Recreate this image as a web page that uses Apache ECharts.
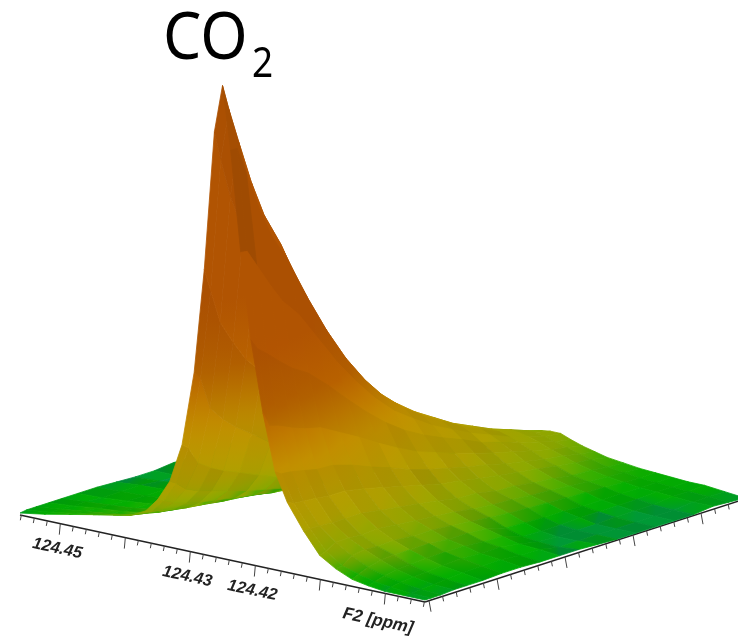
<!DOCTYPE html>
<html><head><meta charset="utf-8">
<style>html,body{margin:0;padding:0;background:#fff}#c{width:738px;height:639px}</style>
<script src="https://cdn.jsdelivr.net/npm/echarts@6/dist/echarts.min.js"></script>
</head><body><div id="c"></div>
<script>
// F2 and F1 grid positions (0..1 along each edge of the base plane)
const f2Grid=[0,.06,.12,.18,.23,.27,.31,.34,.37,.40,.43,.455,.48,.5,.52,.545,.57,.6,.63,.66,.7,.74,.78,.82,.86,.9,.95,1];
const f1Grid=[0,.02,.05,.09,.13,.18,.24,.3,.36,.42,.48,.54,.6,.66,.72,.78,.84,.9,.95,1];
// intensity rows, one per F1 position
const row00=[2,6,11,16,20,23,31,45,66,105,180,285,425,473,410,310,225,154,98,70,45,24,14,7,4,2,2,2];
const row01=[3,6,10,14,18,22,29,42,62,100,172,262,395,447,410,309,214,139,94,67,45,26,15,10,6,4,2,2];
const row02=[3,6,9,12,15,20,27,37,53,82,139,227,355,412,381,292,206,136,93,66,45,32,22,14,9,6,3,2];
const row03=[3,5,8,10,13,17,24,33,47,73,124,203,316,367,342,269,194,130,90,65,44,32,24,17,11,7,4,3];
const row04=[3,5,7,9,12,15,21,29,43,66,112,182,284,330,310,248,183,125,87,63,44,31,23,18,12,8,5,3];
const row05=[3,4,6,8,10,13,19,26,38,59,100,164,256,297,281,230,173,121,86,63,44,32,24,18,13,9,6,3];
const row06=[3,4,5,7,8,11,16,22,32,50,85,138,216,250,238,200,155,110,80,59,41,30,22,18,13,10,7,4];
const row07=[2,4,5,6,7,9,14,19,27,42,70,115,179,208,199,170,135,99,72,54,38,28,22,16,13,9,7,4];
const row08=[1,2,5,5,6,8,11,15,22,34,58,95,148,172,165,144,116,87,65,49,35,26,20,16,11,9,5,3];
const row09=[1,1,2,5,6,7,9,13,18,28,48,78,122,142,137,121,99,76,57,44,32,24,18,14,10,6,5,3];
const row10=[3,4,5,6,5,6,8,11,15,24,40,65,102,118,114,102,85,66,51,39,28,21,16,9,4,2,1,3];
const row11=[2,3,5,6,5,5,7,9,13,20,34,55,86,100,97,88,74,59,46,36,27,19,14,8,3,1,1,2];
const row12=[3,4,5,5,5,5,6,8,11,17,29,47,73,85,83,75,65,52,41,32,23,18,13,7,3,1,1,1];
const row13=[3,4,4,5,5,4,5,7,9,15,25,40,63,73,71,65,57,46,37,29,22,16,12,7,4,1,1,1];
const row14=[3,3,4,5,4,4,5,6,8,12,21,34,53,61,60,55,48,40,32,26,19,15,11,6,4,2,1,1];
const row15=[2,3,4,4,4,4,4,5,7,10,18,29,45,52,51,47,42,35,28,23,17,13,10,6,4,2,1,1];
const row16=[2,3,4,4,4,3,4,4,6,9,15,24,37,43,42,39,35,30,24,20,14,11,9,6,4,2,1,1];
const row17=[2,3,3,4,3,3,3,4,5,7,12,20,31,36,35,33,30,25,21,17,13,10,8,6,5,4,3,3];
const row18=[2,3,3,3,3,3,3,3,4,6,10,17,26,30,30,28,25,22,18,15,11,9,7,6,5,4,3,2];
const row19=[2,2,3,3,3,3,3,3,4,5,8,14,22,25,26,26,22,18,15,12,10,8,7,6,5,5,3,1];
const surface=[row00,row01,row02,row03,row04,row05,row06,row07,row08,row09,row10,row11,row12,row13,row14,row15,row16,row17,row18,row19];
// axis labels
const f2Labels=[124.45,124.43,124.42];
const f2AxisTitle='F2 [ppm]';
const peakName='CO';
const peakSubscript='2';
// colour ramp: intensity, colour
const rampLevel=[0,1.5,4,6,9,13,18,25,35,48,70,100,125,155,210];
const rampColor=[[0,140,90],[0,155,35],[0,168,5],[5,172,0],[30,172,0],[65,171,0],[105,170,0],[138,167,0],[155,163,0],[170,156,0],[180,150,0],[190,140,0],[188,120,0],[180,95,0],[174,82,2]];
// brightness of the long stripes that follow each F1 row
const rowShade=[1,.97,1,.94,1.02,.95,1,.93,1.03,.92,1.02,.94,1,.93,1.02,.95,1.02,.96,1];

const ppmStart=124.4562, ppmSpan=0.0623;
function project(u,v,z){return [20+405*u+320*v,515+87*u-103*v-z];}
function rampAt(z){
  if(z<=rampLevel[0])return rampColor[0];
  for(let k=1;k<rampLevel.length;k++){
    if(z<rampLevel[k]){const t=(z-rampLevel[k-1])/(rampLevel[k]-rampLevel[k-1]);return rampColor[k].map((x,n)=>rampColor[k-1][n]+(x-rampColor[k-1][n])*t);}
  }
  return rampColor[rampColor.length-1];
}
const cells=[];
for(let i=f1Grid.length-2;i>=0;i--){for(let j=0;j<f2Grid.length-1;j++){cells.push([i,j]);}}

function renderCell(params,api){
  const i=api.value(0),j=api.value(1);
  const corners=[[j,i],[j+1,i],[j+1,i+1],[j,i+1]].map(c=>{const z=surface[c[1]][c[0]];return {z:z,p:api.coord(project(f2Grid[c[0]],f1Grid[c[1]],z))};});
  const a=corners[0].z,b=corners[1].z,c=corners[2].z,d=corners[3].z;
  const mean=(a+b+c+d)/4;
  const depth=mean<22?1:(mean<60?0.55:(mean<90?0.3:0));
  let f=1+(rowShade[i]-1)*depth;
  f*=1+(mean>40?0.02:0)*((j%2)?1:-1);
  if(i<=1&&(j===13||j===14))f*=0.93;
  const lift=j<13?0.85:1;
  const tint=z=>{const col=rampAt(z*lift);return 'rgb('+col.map(x=>Math.min(255,Math.round(x*f))).join(',')+')';};
  let lo=corners[0],hi=corners[0];
  corners.forEach(q=>{if(q.z<lo.z)lo=q;if(q.z>hi.z)hi=q;});
  const steps=[0,.15,.3,.5,.75,1].map(t=>({offset:t,color:tint(lo.z+(hi.z-lo.z)*t)}));
  const fill=(hi.p[0]===lo.p[0]&&hi.p[1]===lo.p[1])?tint(mean):new echarts.graphic.LinearGradient(lo.p[0],lo.p[1],hi.p[0],hi.p[1],steps,true);
  return {type:'polygon',shape:{points:corners.map(q=>q.p)},style:{fill:fill,stroke:fill,lineWidth:0.8}};
}

const axisItems=[];
for(let k=0;k<=31;k++){axisItems.push([0,k]);}
for(let k=0;k<=23;k++){axisItems.push([1,k]);}
function renderTick(params,api){
  const kind=api.value(0),k=api.value(1);
  let p,q;
  if(kind===0){
    const ppm=124.45+0.002*(3-k);
    const u=(ppmStart-ppm)/ppmSpan;
    if(u<0||u>1)return null;
    const major=(k-3)%5===0;
    p=project(u,0,0);q=[p[0]-1,p[1]+(major?11:5)];
  }else{
    const v=0.0125+k*0.0425;
    const major=k%5===0;
    p=project(1,v,0);q=[p[0]+(major?2:1),p[1]+(major?11:5)];
  }
  const a=api.coord(p),b=api.coord(q);
  return {type:'line',shape:{x1:a[0],y1:a[1],x2:b[0],y2:b[1]},style:{stroke:'#444',lineWidth:1}};
}
function renderAxisLine(params,api){
  const seg=api.value(0);
  const s=seg===0?[project(0,0,0),project(1,0,0)]:[project(1,0,0),project(1,1,0)];
  const a=api.coord(s[0]),b=api.coord(s[1]);
  return {type:'line',shape:{x1:a[0],y1:a[1],x2:b[0],y2:b[1]},style:{stroke:'#222',lineWidth:1.5}};
}
function renderF2Label(params,api){
  const ppm=api.value(0);
  const u=(ppmStart-ppm)/ppmSpan;
  const p=project(u,0,0);
  const c=api.coord([p[0]-3,p[1]+25]);
  return {type:'text',x:c[0],y:c[1],rotation:-0.21,style:{text:ppm.toFixed(2),fill:'#222',font:'italic bold 16.5px "Liberation Sans"',align:'center',verticalAlign:'middle'}};
}
function renderF2Title(params,api){
  const c=api.coord([378,621]);
  return {type:'text',x:c[0],y:c[1],rotation:-0.21,style:{text:f2AxisTitle,fill:'#222',font:'italic bold 17px "Liberation Sans"',align:'center',verticalAlign:'middle'}};
}
function renderPeakName(params,api){
  const c=api.coord([163,40]);
  const s=api.coord([252,65]);
  return {type:'group',children:[
    {type:'text',x:c[0],y:c[1],scaleX:0.92,style:{text:peakName,fill:'#000',font:'66px "Noto Sans"',align:'left',verticalAlign:'middle'}},
    {type:'text',x:s[0],y:s[1],scaleX:0.88,style:{text:peakSubscript,fill:'#000',font:'42px "Noto Sans"',align:'left',verticalAlign:'middle'}}
  ]};
}
const chart=echarts.init(document.getElementById('c'),null,{renderer:'canvas'});
chart.setOption({
  animation:false,backgroundColor:'#fff',
  grid:{left:0,right:0,top:0,bottom:0},
  xAxis:{type:'value',min:0,max:738,show:false},
  yAxis:{type:'value',min:0,max:639,inverse:true,show:false},
  series:[
    {type:'custom',coordinateSystem:'cartesian2d',renderItem:renderAxisLine,data:[[0],[1]],silent:true,clip:true,progressive:0},
    {type:'custom',coordinateSystem:'cartesian2d',renderItem:renderTick,data:axisItems,silent:true,clip:true,progressive:0},
    {type:'custom',coordinateSystem:'cartesian2d',renderItem:renderCell,data:cells,silent:true,clip:true,progressive:0},
    {type:'custom',coordinateSystem:'cartesian2d',renderItem:renderF2Label,data:f2Labels.map(x=>[x]),silent:true,clip:false,progressive:0},
    {type:'custom',coordinateSystem:'cartesian2d',renderItem:renderF2Title,data:[[0]],silent:true,clip:false},
    {type:'custom',coordinateSystem:'cartesian2d',renderItem:renderPeakName,data:[[0]],silent:true,clip:false}
  ]
});
</script></body></html>
